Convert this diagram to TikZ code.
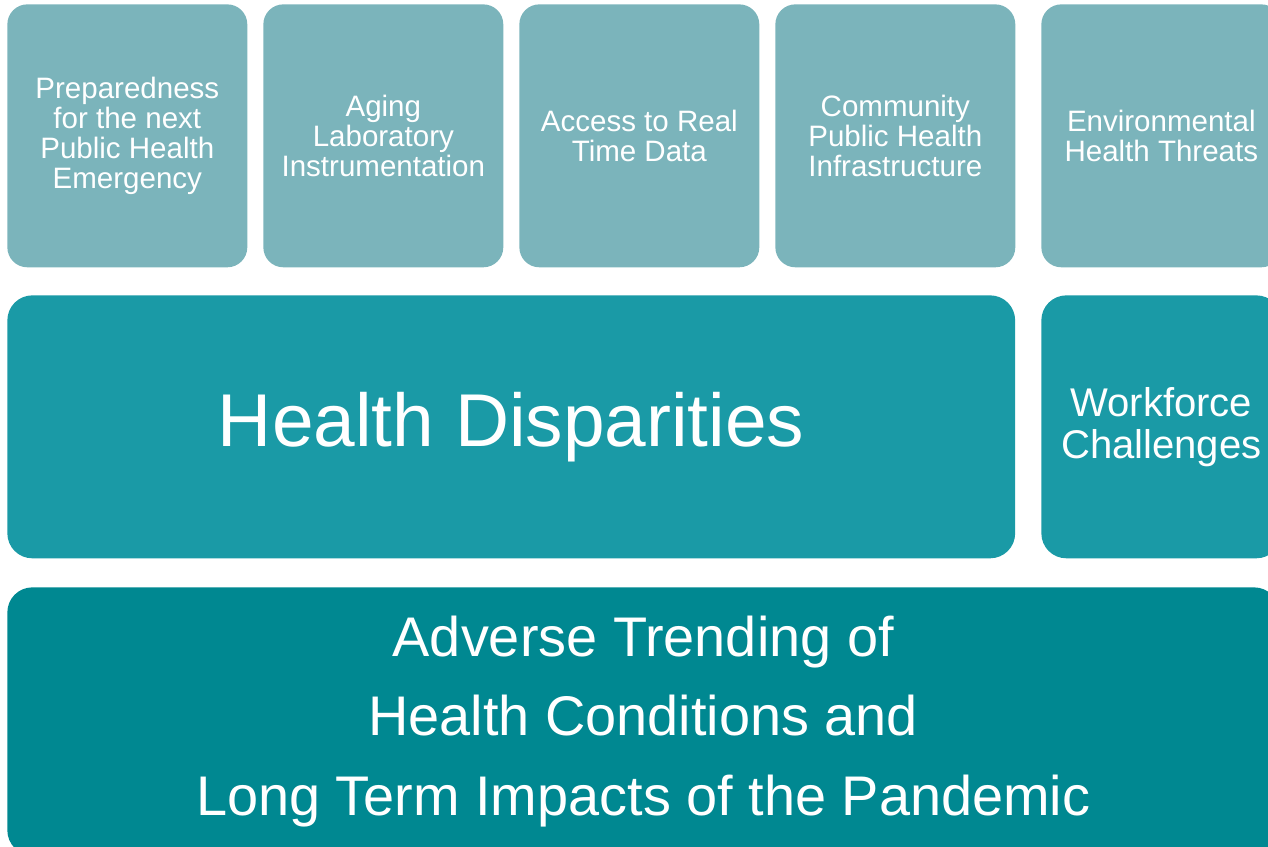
\documentclass[tikz,border=0pt]{standalone}
\usepackage{fontspec}
\setmainfont{Liberation Sans}
\definecolor{toprow}{HTML}{7BB4BB}
\definecolor{midrow}{HTML}{1A9AA6}
\definecolor{botrow}{HTML}{008891}
\tikzset{
  box/.style={fill=#1, draw=none, text=white, align=center, inner sep=0pt, anchor=north west},
  topbox/.style={box=toprow, rounded corners=0.4cm, minimum width=4.8cm, minimum height=5.26cm,
     font=\fontsize{16.8}{17.2}\selectfont},
  midbox/.style={box=midrow, rounded corners=0.5cm, minimum height=5.26cm},
  botbox/.style={box=botrow, rounded corners=0.5cm, minimum width=25.44cm, minimum height=5.2cm,
     font=\fontsize{31.8}{45.4}\selectfont},
}
\begin{document}
\begin{tikzpicture}[x=0.02cm,y=-0.02cm]
\useasboundingbox (0,0) rectangle (1268,846);
\clip (0,0) rectangle (1268,846);
\node[topbox] (prep) at (7,4) {Preparedness\\for the next\\Public Health\\Emergency};
\node[topbox] (aging) at (263,4) {Aging\\Laboratory\\Instrumentation};
\node[topbox] (access) at (519,4) {Access to Real\\Time Data};
\node[topbox] (comm) at (775,4) {Community\\Public Health\\Infrastructure};
\node[topbox] (env) at (1041,4) {Environmental\\Health Threats};
\node[midbox, minimum width=20.16cm, font=\fontsize{42.6}{50}\selectfont] (disp) at (7,295) {Health Disparities};
\node[midbox, minimum width=4.8cm, font=\fontsize{22.8}{23.8}\selectfont] (work) at (1041,295) {Workforce\\Challenges};
\node[botbox, minimum height=5.36cm] (adverse) at (7,587) {Adverse Trending of\\Health Conditions and\\Long Term Impacts of the Pandemic};
\end{tikzpicture}
\end{document}
